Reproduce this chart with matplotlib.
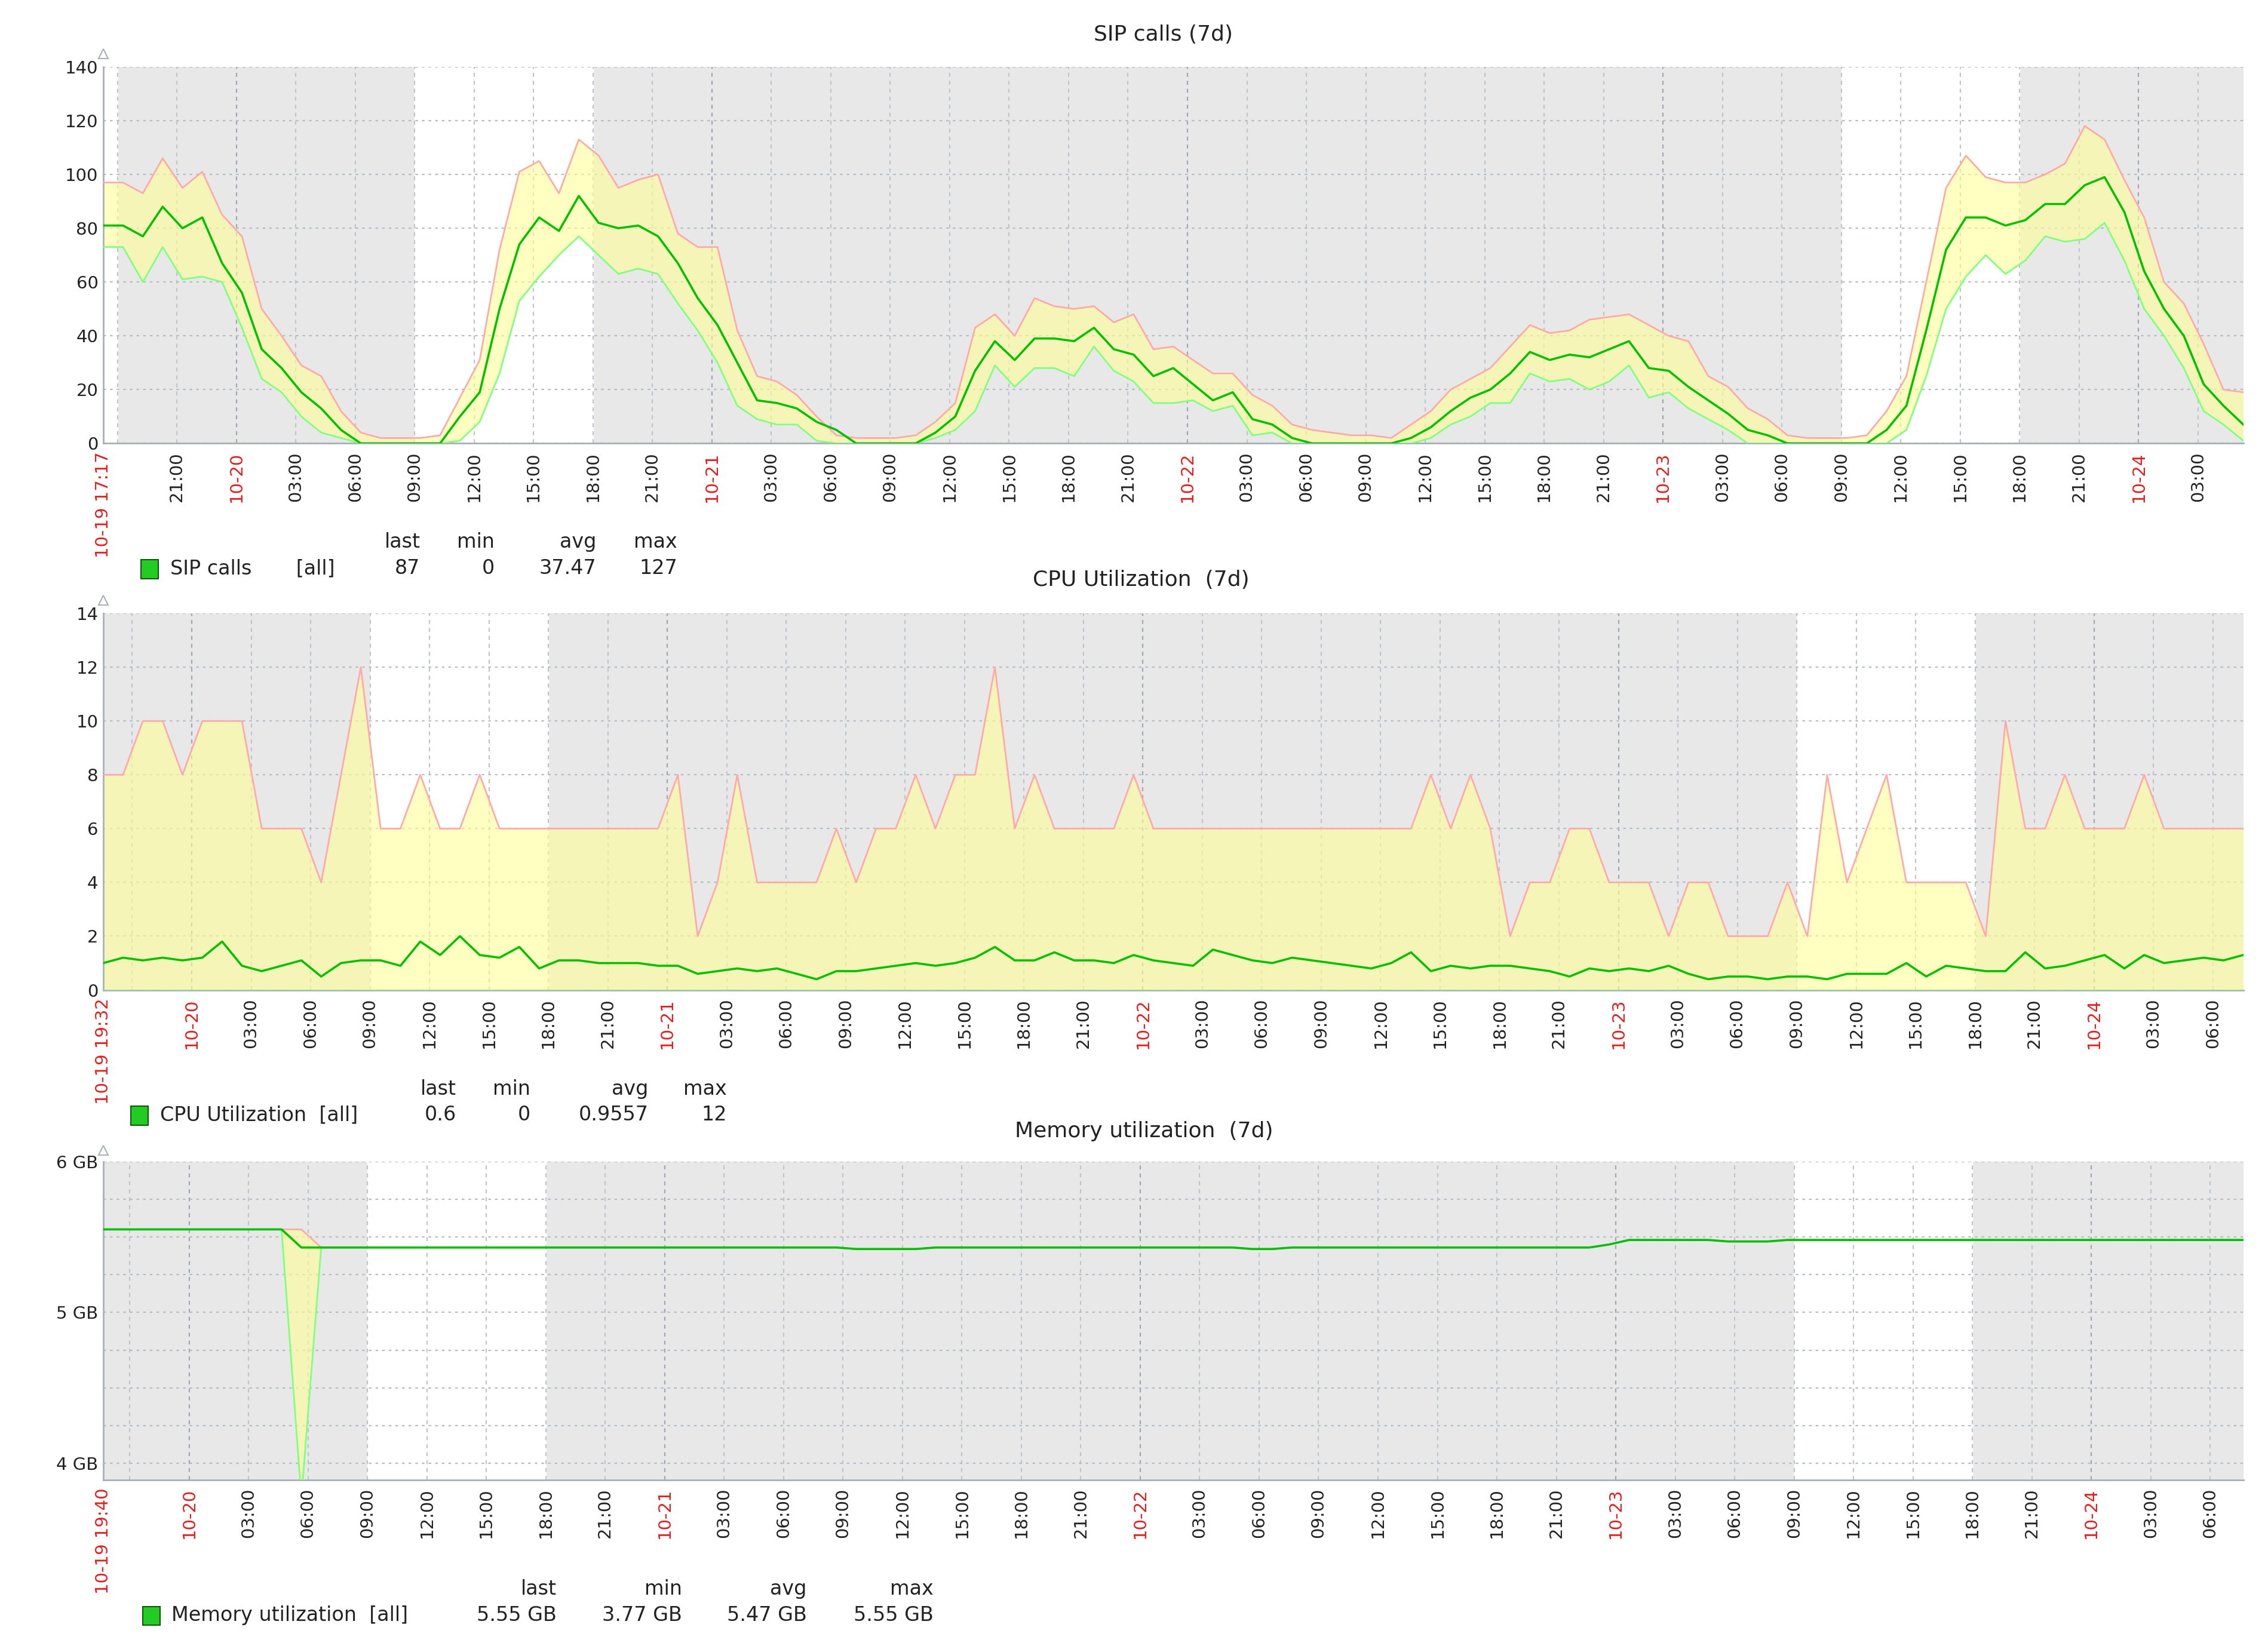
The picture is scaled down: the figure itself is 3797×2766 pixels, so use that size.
import numpy as np
import matplotlib
matplotlib.use('Agg')
import matplotlib.pyplot as plt

# hourly samples, hours counted from 10-19 00:00
sip_start = 17 + 17 / 60.
sip_max = [97, 97, 93, 106, 95, 101, 85, 77, 50, 40, 29, 25, 12, 4, 2, 2, 2, 3, 17, 31,
           72, 101, 105, 93, 113, 107, 95, 98, 100, 78, 73, 73, 42, 25, 23, 18, 10, 3, 2, 2,
           2, 3, 8, 15, 43, 48, 40, 54, 51, 50, 51, 45, 48, 35, 36, 31, 26, 26, 18, 14,
           7, 5, 4, 3, 3, 2, 7, 12, 20, 24, 28, 36, 44, 41, 42, 46, 47, 48, 44, 40,
           38, 25, 21, 13, 9, 3, 2, 2, 2, 3, 12, 25, 60, 95, 107, 99, 97, 97, 100, 104,
           118, 113, 98, 84, 60, 52, 37, 20, 19]
sip_avg = [81, 81, 77, 88, 80, 84, 67, 56, 35, 28, 19, 13, 5, 0, 0, 0, 0, 0, 10, 19,
           50, 74, 84, 79, 92, 82, 80, 81, 77, 67, 54, 44, 30, 16, 15, 13, 8, 5, 0, 0,
           0, 0, 4, 10, 27, 38, 31, 39, 39, 38, 43, 35, 33, 25, 28, 22, 16, 19, 9, 7,
           2, 0, 0, 0, 0, 0, 2, 6, 12, 17, 20, 26, 34, 31, 33, 32, 35, 38, 28, 27,
           21, 16, 11, 5, 3, 0, 0, 0, 0, 0, 5, 14, 42, 72, 84, 84, 81, 83, 89, 89,
           96, 99, 86, 64, 50, 40, 22, 14, 7]
sip_min = [73, 73, 60, 73, 61, 62, 60, 43, 24, 19, 10, 4, 2, 0, 0, 0, 0, 0, 1, 8,
           26, 53, 62, 70, 77, 70, 63, 65, 63, 52, 42, 30, 14, 9, 7, 7, 1, 0, 0, 0,
           0, 0, 2, 5, 12, 29, 21, 28, 28, 25, 36, 27, 23, 15, 15, 16, 12, 14, 3, 4,
           0, 0, 0, 0, 0, 0, 0, 2, 7, 10, 15, 15, 26, 23, 24, 20, 23, 29, 17, 19,
           13, 9, 5, 0, 0, 0, 0, 0, 0, 0, 0, 5, 25, 50, 62, 70, 63, 68, 77, 75,
           76, 82, 68, 50, 40, 28, 12, 7, 1]

cpu_start = 19 + 32 / 60.
cpu_max = [8, 8, 10, 10, 8, 10, 10, 10, 6, 6, 6, 4, 8, 12, 6, 6, 8, 6, 6, 8,
           6, 6, 6, 6, 6, 6, 6, 6, 6, 8, 2, 4, 8, 4, 4, 4, 4, 6, 4, 6,
           6, 8, 6, 8, 8, 12, 6, 8, 6, 6, 6, 6, 8, 6, 6, 6, 6, 6, 6, 6,
           6, 6, 6, 6, 6, 6, 6, 8, 6, 8, 6, 2, 4, 4, 6, 6, 4, 4, 4, 2,
           4, 4, 2, 2, 2, 4, 2, 8, 4, 6, 8, 4, 4, 4, 4, 2, 10, 6, 6, 8,
           6, 6, 6, 8, 6, 6, 6, 6, 6]
cpu_avg = [1.0, 1.2, 1.1, 1.2, 1.1, 1.2, 1.8, 0.9, 0.7, 0.9,
           1.1, 0.5, 1.0, 1.1, 1.1, 0.9, 1.8, 1.3, 2.0, 1.3,
           1.2, 1.6, 0.8, 1.1, 1.1, 1.0, 1.0, 1.0, 0.9, 0.9,
           0.6, 0.7, 0.8, 0.7, 0.8, 0.6, 0.4, 0.7, 0.7, 0.8,
           0.9, 1.0, 0.9, 1.0, 1.2, 1.6, 1.1, 1.1, 1.4, 1.1,
           1.1, 1.0, 1.3, 1.1, 1.0, 0.9, 1.5, 1.3, 1.1, 1.0,
           1.2, 1.1, 1.0, 0.9, 0.8, 1.0, 1.4, 0.7, 0.9, 0.8,
           0.9, 0.9, 0.8, 0.7, 0.5, 0.8, 0.7, 0.8, 0.7, 0.9,
           0.6, 0.4, 0.5, 0.5, 0.4, 0.5, 0.5, 0.4, 0.6, 0.6,
           0.6, 1.0, 0.5, 0.9, 0.8, 0.7, 0.7, 1.4, 0.8, 0.9,
           1.1, 1.3, 0.8, 1.3, 1.0, 1.1, 1.2, 1.1, 1.3]
cpu_min = [0] * len(cpu_avg)

mem_start = 19 + 40 / 60.
mem_avg = ([5.55] * 10 + [5.43] * 28 + [5.42] * 4 + [5.43] * 16 + [5.42] * 2
           + [5.43] * 16 + [5.45] + [5.48] * 5 + [5.47] * 3 + [5.48] * 24)
mem_min = list(mem_avg)
mem_min[10] = 3.77
mem_max = list(mem_avg)
mem_max[10] = 5.55

W, H = 3797, 2766
DW = 1560.
DH = DW * H / W

fig = plt.figure(figsize=(W / 100, H / 100), dpi=100)

GRAY = '#e8e8e8'
AXC = '#a8b0b8'


def fx(x):
    return x / DW


def fy(y):
    return 1 - y / DH


def panel(top, bottom, title, title_x, title_y, start, vmax, vavg, vmin,
          ylim, major, minor, ylabfmt):
    ax = fig.add_axes([fx(71), fy(bottom), fx(1543) - fx(71), fy(top) - fy(bottom)])
    x = start + np.arange(len(vavg))
    end = start + 108
    ax.set_xlim(start, end)
    ax.set_ylim(*ylim)
    ax.set_facecolor(GRAY)
    for d in (0, 1, 4):
        ax.axvspan(d * 24 + 9, d * 24 + 18, color='white', zorder=0)
    ax.fill_between(x, vmin, vmax, color='#ffff99', alpha=0.6, lw=0, zorder=2)
    ax.plot(x, vmax, color='#ffaaaa', lw=2, zorder=3)
    ax.plot(x, vmin, color='#80ff80', lw=2, zorder=3)
    ax.plot(x, vavg, color='#00c000', lw=2.6, zorder=4)

    ax.set_yticks(major)
    ax.set_yticks(minor, minor=True)
    ax.set_yticklabels([ylabfmt(v) for v in major], fontsize=21, color='#222222')
    ax.grid(True, which='both', axis='y', ls=(0, (2, 3)), color='#b8bcc4', lw=1.6)
    ax.tick_params(axis='y', which='both', length=0, pad=6)

    ticks = np.arange(np.ceil(start / 3) * 3, end, 3)
    for t in ticks:
        ax.axvline(t, ls=(0, (3, 3)), color='#a0a8b4' if t % 24 == 0 else '#c0c4cc',
                   lw=1.6, zorder=1)
    ticks = [t for t in ticks if t - start > 2]
    ax.set_xticks(ticks)
    ax.set_xticklabels([])
    ax.tick_params(axis='x', length=0)
    for t in ticks:
        h = int(t) % 24
        if h == 0:
            lab, col = '10-%02d' % (19 + int(t) // 24), '#e02020'
        else:
            lab, col = '%02d:00' % h, '#222222'
        ax.annotate(lab, (t, 0), xycoords=('data', 'axes fraction'), xytext=(0, -10),
                    textcoords='offset points', rotation=90, ha='center', va='top',
                    fontsize=21, color=col)
    slab = '10-19 %02d:%02d' % (int(start), round((start % 1) * 60))
    ax.annotate(slab, (start, 0), xycoords=('data', 'axes fraction'), xytext=(0, -10),
                textcoords='offset points', rotation=90, ha='center', va='top',
                fontsize=21, color='#e02020')

    for s in ('top', 'right'):
        ax.spines[s].set_visible(False)
    for s in ('left', 'bottom'):
        ax.spines[s].set_color(AXC)
        ax.spines[s].set_linewidth(2)
    ax.plot([0], [1.035], marker='^', ms=12, mfc='white', mec=AXC, mew=1.5,
            transform=ax.transAxes, clip_on=False)
    fig.text(fx(title_x), fy(title_y), title, ha='center', va='center', fontsize=26,
             color='#222222')
    return ax


def legend(y, sq_x, name, cols, heads, vals):
    fig.patches.append(plt.Rectangle((fx(sq_x), fy(y + 7)), fx(12), fy(0) - fy(13),
                                     transform=fig.transFigure, fc='#22cc22',
                                     ec='#115511', lw=1.5))
    fig.text(fx(sq_x + 20), fy(y), name, ha='left', va='center', fontsize=24,
             color='#222222')
    for cx, hd, v in zip(cols, heads, vals):
        fig.text(fx(cx), fy(y - 18), hd, ha='right', va='center', fontsize=24,
                 color='#222222')
        fig.text(fx(cx), fy(y), v, ha='right', va='center', fontsize=24,
                 color='#222222')


heads = ['last', 'min', 'avg', 'max']

panel(46, 305, 'SIP calls (7d)', 800, 24, sip_start, sip_max, sip_avg, sip_min,
      (0, 140), np.arange(0, 141, 20), [], lambda v: '%d' % v)
legend(391, 97, 'SIP calls       [all]', [289, 340, 410, 466], heads,
       ['87', '0', '37.47', '127'])

panel(422, 681, 'CPU Utilization  (7d)', 785, 399, cpu_start, cpu_max, cpu_avg,
      cpu_min, (0, 14), np.arange(0, 15, 2), [], lambda v: '%d' % v)
legend(767, 90, 'CPU Utilization  [all]', [314, 365, 446, 500], heads,
       ['0.6', '0', '0.9557', '12'])

panel(799, 1018, 'Memory utilization  (7d)', 787, 778, mem_start, mem_max, mem_avg,
      mem_min, (3.89, 6.0), [4, 5, 6], np.arange(4, 6.01, 0.25),
      lambda v: '%d GB' % v)
legend(1111, 98, 'Memory utilization  [all]', [383, 469, 555, 642], heads,
       ['5.55 GB', '3.77 GB', '5.47 GB', '5.55 GB'])

fig.savefig('out.png', dpi=100, facecolor='white')
